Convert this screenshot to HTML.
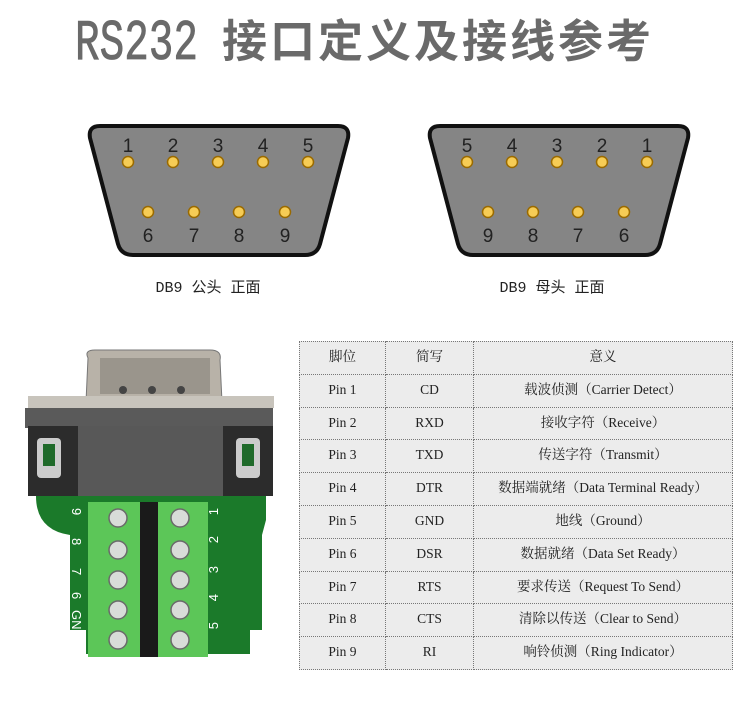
<!DOCTYPE html>
<html><head><meta charset="utf-8"><style>
body{margin:0;width:750px;height:715px;background:#fff;position:relative;overflow:hidden;font-family:"Liberation Serif","Noto Serif CJK SC",serif}
.a{position:absolute}
table{position:absolute;left:299px;top:341px;width:434px;border-collapse:collapse;background:#ececec;font-size:13.5px;color:#222}
td{border:1px dotted #777;height:24.8px;line-height:16px;text-align:center;vertical-align:top;padding:7px 0 0 0;box-sizing:content-box}
</style></head><body>
<div class="a" style="left:75px;top:15px;height:60px;line-height:60px;color:#6a6a6a;white-space:nowrap;font-family:'Liberation Mono',monospace;font-size:41px;transform:scaleY(1.4);transform-origin:0 50%;-webkit-text-stroke:0.6px #6a6a6a">RS232</div>
<div class="a" style="left:222px;top:8px;height:60px;line-height:60px;color:#6a6a6a;white-space:nowrap;font-family:'Noto Sans CJK SC',sans-serif;font-weight:bold;font-size:45px;letter-spacing:3px">接口定义及接线参考</div>

<svg class="a" style="left:0;top:0" width="750" height="330">
<g font-family="Liberation Sans,sans-serif" font-size="19" fill="#222" text-anchor="middle">
<path d="M100,126 H338 Q350,126 348,138 L320,244 Q317,255 305,255 H133 Q121,255 118,244 L90,138 Q88,126 100,126Z" fill="#858585" stroke="#111" stroke-width="4"/>
<g fill="#f6cc55" stroke="#9a6a00" stroke-width="1.5">
<circle cx="128" cy="162" r="5.5"/><circle cx="173" cy="162" r="5.5"/><circle cx="218" cy="162" r="5.5"/><circle cx="263" cy="162" r="5.5"/><circle cx="308" cy="162" r="5.5"/>
<circle cx="148" cy="212" r="5.5"/><circle cx="194" cy="212" r="5.5"/><circle cx="239" cy="212" r="5.5"/><circle cx="285" cy="212" r="5.5"/></g>
<text x="128" y="152">1</text><text x="173" y="152">2</text><text x="218" y="152">3</text><text x="263" y="152">4</text><text x="308" y="152">5</text>
<text x="148" y="242">6</text><text x="194" y="242">7</text><text x="239" y="242">8</text><text x="285" y="242">9</text>
<path d="M440,126 H678 Q690,126 688,138 L660,244 Q657,255 645,255 H473 Q461,255 458,244 L430,138 Q428,126 440,126Z" fill="#858585" stroke="#111" stroke-width="4"/>
<g fill="#f6cc55" stroke="#9a6a00" stroke-width="1.5">
<circle cx="467" cy="162" r="5.5"/><circle cx="512" cy="162" r="5.5"/><circle cx="557" cy="162" r="5.5"/><circle cx="602" cy="162" r="5.5"/><circle cx="647" cy="162" r="5.5"/>
<circle cx="488" cy="212" r="5.5"/><circle cx="533" cy="212" r="5.5"/><circle cx="578" cy="212" r="5.5"/><circle cx="624" cy="212" r="5.5"/></g>
<text x="467" y="152">5</text><text x="512" y="152">4</text><text x="557" y="152">3</text><text x="602" y="152">2</text><text x="647" y="152">1</text>
<text x="488" y="242">9</text><text x="533" y="242">8</text><text x="578" y="242">7</text><text x="624" y="242">6</text>
</g>
<g font-family="Liberation Mono,Noto Sans CJK SC,monospace" font-size="15" fill="#222" text-anchor="middle">
<text x="208" y="292">DB9 公头 正面</text><text x="552" y="292">DB9 母头 正面</text></g>
</svg>

<svg class="a" style="left:0;top:330px" width="290" height="340">
<path d="M88,28 Q84,20 95,20 H210 Q222,20 220,30 L222,72 H86Z" fill="#b8b2a8" stroke="#777"/>
<rect x="100" y="28" width="110" height="36" fill="#9a958c"/>
<circle cx="123" cy="60" r="4" fill="#444"/><circle cx="152" cy="60" r="4" fill="#444"/><circle cx="181" cy="60" r="4" fill="#444"/>
<rect x="28" y="66" width="246" height="12" fill="#c8c4bc"/>
<rect x="25" y="78" width="248" height="20" fill="#5a5a5a"/>
<rect x="28" y="96" width="52" height="70" fill="#2c2c2c"/>
<rect x="223" y="96" width="50" height="70" fill="#2c2c2c"/>
<rect x="78" y="96" width="145" height="78" fill="#585858"/>
<rect x="37" y="108" width="24" height="40" rx="4" fill="#ccc"/><rect x="43" y="114" width="12" height="22" fill="#1f6a2a"/>
<rect x="236" y="108" width="24" height="40" rx="4" fill="#ccc"/><rect x="242" y="114" width="12" height="22" fill="#1f6a2a"/>
<path d="M36,166 H266 V190 L262,205 V300 H250 V324 H86 V300 H70 V205 Q36,200 36,166Z" fill="#1b7a2a"/>
<rect x="88" y="172" width="52" height="155" fill="#5cc658"/>
<rect x="140" y="172" width="18" height="155" fill="#1a1a1a"/>
<rect x="158" y="172" width="50" height="155" fill="#5cc658"/>
<g fill="#d8dcd8" stroke="#6a6a6a" stroke-width="1.5">
<circle cx="118" cy="188" r="9"/><circle cx="118" cy="220" r="9"/><circle cx="118" cy="250" r="9"/><circle cx="118" cy="280" r="9"/><circle cx="118" cy="310" r="9"/>
<circle cx="180" cy="188" r="9"/><circle cx="180" cy="220" r="9"/><circle cx="180" cy="250" r="9"/><circle cx="180" cy="280" r="9"/><circle cx="180" cy="310" r="9"/></g>
<g font-family="Liberation Sans,sans-serif" font-size="13" fill="#fff">
<text transform="translate(72,178) rotate(90)">9</text><text transform="translate(72,208) rotate(90)">8</text><text transform="translate(72,238) rotate(90)">7</text><text transform="translate(72,262) rotate(90)">6</text><text transform="translate(72,280) rotate(90)">GND</text>
<text transform="translate(218,178) rotate(-90)" text-anchor="end">1</text><text transform="translate(218,206) rotate(-90)" text-anchor="end">2</text><text transform="translate(218,236) rotate(-90)" text-anchor="end">3</text><text transform="translate(218,264) rotate(-90)" text-anchor="end">4</text><text transform="translate(218,292) rotate(-90)" text-anchor="end">5</text></g>
</svg>

<table>
<tr><td style="width:85px">脚位</td><td style="width:87px">简写</td><td>意义</td></tr>
<tr><td>Pin 1</td><td>CD</td><td>载波侦测（Carrier Detect）</td></tr>
<tr><td>Pin 2</td><td>RXD</td><td>接收字符（Receive）</td></tr>
<tr><td>Pin 3</td><td>TXD</td><td>传送字符（Transmit）</td></tr>
<tr><td>Pin 4</td><td>DTR</td><td>数据端就绪（Data Terminal Ready）</td></tr>
<tr><td>Pin 5</td><td>GND</td><td>地线（Ground）</td></tr>
<tr><td>Pin 6</td><td>DSR</td><td>数据就绪（Data Set Ready）</td></tr>
<tr><td>Pin 7</td><td>RTS</td><td>要求传送（Request To Send）</td></tr>
<tr><td>Pin 8</td><td>CTS</td><td>清除以传送（Clear to Send）</td></tr>
<tr><td>Pin 9</td><td>RI</td><td>响铃侦测（Ring Indicator）</td></tr>
</table>
</body></html>
